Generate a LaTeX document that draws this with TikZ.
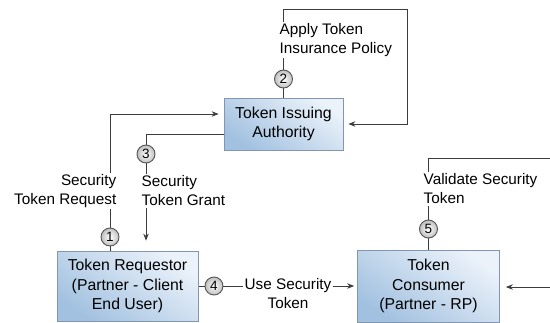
\documentclass[tikz,border=0pt]{standalone}
\usepackage{fontspec}
\setmainfont{Liberation Sans}
\usetikzlibrary{arrows.meta}
\pgfdeclarelayer{bg}
\pgfsetlayers{bg,main}
\definecolor{boxtop}{RGB}{235,242,250}
\definecolor{boxbot}{RGB}{162,193,224}
\definecolor{boxborder}{RGB}{130,150,175}
\definecolor{numborder}{RGB}{85,85,85}
\definecolor{linecol}{RGB}{60,60,60}
\begin{document}
\begin{tikzpicture}[x=1pt,y=-1pt,
  box/.style={draw=boxborder, line width=0.7pt, top color=boxtop, bottom color=boxbot, shading angle=-35, align=center, font=\fontsize{15.8}{19.5}\selectfont, inner sep=0pt},
  num/.style={circle, draw=numborder, line width=0.9pt, inner color=white, outer color=gray!50, minimum size=18pt, inner sep=0pt, font=\fontsize{13.5}{13.5}\selectfont},
  lab/.style={fill=white, inner sep=1.5pt, font=\fontsize{15.3}{19}\selectfont},
  conn/.style={draw=linecol, line width=1pt},
  arr/.style={conn, -{Stealth[length=7pt,width=5.5pt]}, shorten >=5pt}]
\useasboundingbox (0,0) rectangle (550,322);
% boxes
\node[box, minimum width=119pt, minimum height=52pt] (tia) at (283.5,124) {Token Issuing\\Authority};
\node[box, minimum width=141pt, minimum height=70pt] (req) at (127.5,286) {Token Requestor\\(Partner - Client\\End User)};
\node[box, minimum width=142pt, minimum height=72pt] (con) at (428.5,286) {Token\\Consumer\\(Partner - RP)};
% step numbers
\node[num] (n1) at (110,237) {1};
\node[num] (n2) at (283.5,79) {2};
\node[num] (n3) at (146,154) {3};
\node[num] (n4) at (214,286) {4};
\node[num] (n5) at (428.5,229) {5};
% labels
\node[lab, anchor=east, align=right] (l1) at (118,191) {Security\\Token Request};
\node[lab, anchor=west, align=left] (l3) at (140,191) {Security\\Token Grant};
\node[lab, anchor=west, align=left] (l2) at (278,40) {Apply Token\\Insurance Policy};
\node[lab, align=center] (l4) at (288,294) {Use Security\\Token};
\node[lab, anchor=west, align=left] (l5) at (422,189) {Validate Security\\Token};
% free ends
\coordinate (t2) at (407,9);
\coordinate (e5) at (550,158);
\coordinate (e6) at (550,287);
\begin{pgfonlayer}{bg}
\draw[arr] (n1 |- req.north) |- (tia.west |- 0,114);
\draw[arr, shorten >=10pt] (tia.west |- 0,134) -| (n3 |- req.north);
\draw[arr] (tia.north) |- (t2) |- (tia.east);
\draw[arr, shorten >=3pt] (req.east) -- (con.west);
\draw[conn] (con.north) |- (e5);
\draw[arr, shorten >=6pt] (e6) -- (con.east |- e6);
\end{pgfonlayer}
\end{tikzpicture}
\end{document}
